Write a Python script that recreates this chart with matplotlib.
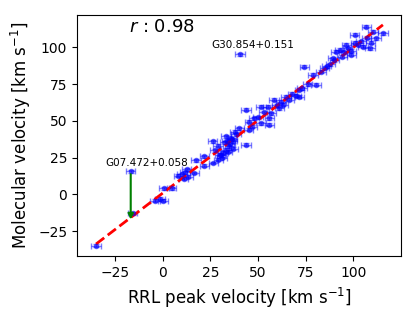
import numpy as np
import matplotlib
matplotlib.use('Agg')
import matplotlib.pyplot as plt

# RRL peak velocity vs molecular velocity (km/s)
v_rrl = [-35.0, -16.8, -15.8, -4.0, -1.3, 0.2, 0.7, 4.7, 8.2, 10.0, 11.8, 10.9, 12.5,
         13.5, 16.6, 17.5, 21.9, 21.9, 26.6, 29.2, 31.0, 33.2, 35.0, 36.7, 31.5,
         26.2, 33.2, 35.5, 37.0, 38.5, 40.2, 43.7, 43.7, 45.5, 48.0, 51.6, 51.6,
         55.0, 55.9, 55.9, 58.5, 61.2, 64.7, 66.4, 71.7, 71.7, 74.3, 78.7, 80.5,
         84.9, 89.3, 91.0, 92.8, 96.3, 98.9, 100.7, 102.4, 105.0, 106.8, 108.6,
         110.3, 115.5, 112.0, 40.6, 30.0, 32.5, 34.0, 36.0, 38.0, 29.0, 27.5,
         45.0, 47.0, 50.0, 53.0, 57.0, 60.0, 62.0, 63.0, 68.0, 70.0, 73.0, 76.0,
         83.0, 86.0, 88.0, 90.0, 94.0, 95.0, 97.0, 99.0, 101.0, 104.0, 107.0,
         109.0, 36.5, 33.8, 30.8]
v_mol = [-34.8, 15.6, -13.0, -4.4, -3.0, -4.4, 4.3, 4.3, 12.7, 13.8, 15.0, 10.5, 17.0,
         12.0, 14.5, 23.1, 25.9, 19.5, 21.3, 23.6, 24.7, 30.4, 32.7, 36.1, 28.2,
         36.1, 39.5, 34.0, 31.0, 40.7, 45.0, 33.8, 57.4, 49.5, 51.7, 59.6, 48.4,
         59.6, 51.7, 47.2, 64.2, 58.6, 66.5, 64.2, 71.0, 66.5, 86.8, 81.2, 74.4,
         85.9, 92.6, 97.0, 98.2, 101.6, 94.8, 108.4, 101.6, 100.4, 114.0, 99.3,
         110.6, 109.5, 106.0, 95.2, 27.0, 35.5, 29.0, 38.0, 42.5, 33.0, 30.0,
         44.0, 46.0, 52.5, 56.0, 55.0, 60.5, 63.0, 61.0, 68.5, 67.0, 72.0, 75.0,
         83.5, 87.0, 88.5, 91.0, 93.5, 96.5, 99.5, 97.5, 103.0, 104.0, 106.5,
         103.0, 37.5, 36.5, 26.5]
xerr = 2.5
yerr = 1.0

name_low = 'G07.472+0.058'
name_high = 'G30.854+0.151'
arrow_to = -19.0
r_value = 0.98

x = np.array(v_rrl)
y = np.array(v_mol)
keep = (np.abs(y - x) < 25)
p = np.polyfit(x[keep], y[keep], 1)
xl = np.array([x.min(), x.max()])

fig = plt.figure(figsize=(4.16, 3.17), dpi=100)
ax = fig.add_axes([0.185, 0.192, 0.779, 0.761])
ax.errorbar(x, y, xerr=xerr, yerr=yerr, fmt='o', color='b', ms=3,
            capsize=2, elinewidth=1, alpha=0.5)
ax.plot(xl, np.polyval(p, xl), 'r--', lw=2)

ax.annotate('', xy=(v_rrl[1], arrow_to), xytext=(v_rrl[1], v_mol[1]),
            arrowprops=dict(arrowstyle='-|>', color='g', lw=1.5, mutation_scale=8))
ax.text(-30, 19, name_low, fontsize=7.5)
ax.text(25.5, 99.5, name_high, fontsize=7.5)
ax.text(0.16, 0.93, '$r$ : %.2f' % r_value, transform=ax.transAxes, fontsize=13)

ax.set_xlim(-45, 125)
ax.set_ylim(-42, 122)
ax.set_xticks([-25, 0, 25, 50, 75, 100])
ax.set_yticks([-25, 0, 25, 50, 75, 100])
ax.tick_params(labelsize=10)
ax.set_xlabel('RRL peak velocity [km s$^{-1}$]', fontsize=12)
ax.set_ylabel('Molecular velocity [km s$^{-1}$]', fontsize=12)
plt.savefig('out.png', dpi=100)
